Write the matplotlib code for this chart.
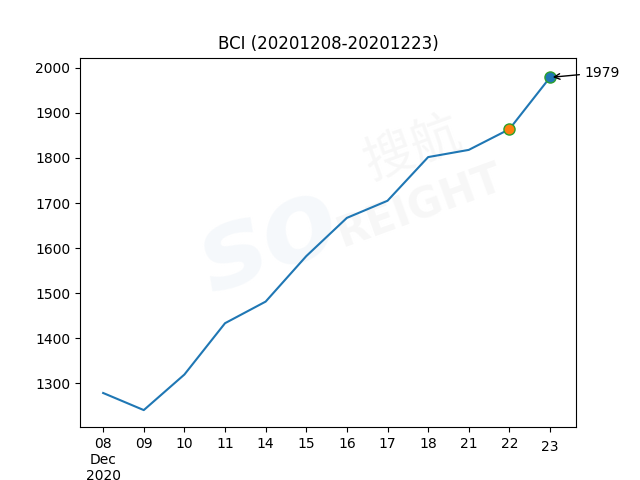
import matplotlib
matplotlib.use('Agg')
import matplotlib.pyplot as plt

# BCI values, business days Dec 2020
days = ['08\nDec\n2020', '09', '10', '11', '14', '15', '16', '17', '18', '21', '22', '23']
bci = [1278, 1240, 1319, 1433, 1481, 1582, 1667, 1705, 1802, 1818, 1864, 1979]

fig, ax = plt.subplots(figsize=(6.4, 4.8), dpi=100)
x = list(range(len(days)))

# faint watermark, under the line
wm = dict(transform=fig.transFigure, rotation=20, ha='center', va='center', zorder=0)
ax.text(0.42, 0.50, 'so', fontsize=80, fontweight='bold', style='italic',
        color='#e8eff6', alpha=0.4, **wm)
ax.text(0.645, 0.69, '搜航', fontsize=36, color='#ececec', alpha=0.4,
        family=['Noto Sans CJK SC', 'DejaVu Sans'], **wm)
ax.text(0.655, 0.57, 'REIGHT', fontsize=30, fontweight='bold', color='#ececec',
        alpha=0.4, **wm)

ax.plot(x, bci)
ax.plot(x[-2], bci[-2], 'o', color='C1', markeredgecolor='C2', markersize=8)
ax.plot(x[-1], bci[-1], 'o', color='C0', markeredgecolor='C2', markersize=8)
ax.annotate(str(bci[-1]), xy=(x[-1], bci[-1]), xytext=(x[-1] + 0.86, bci[-1] + 2),
            arrowprops=dict(arrowstyle='->', color='black'))

ax.set_xlim(-0.57, 11.64)
ax.set_ylim(1202, 2023)
ax.set_xticks(x)
ax.set_xticklabels(days)
ax.get_xticklabels()[-1].set_y(-0.007)
ax.set_title('BCI (20201208-20201223)')

fig.savefig('out.png')
